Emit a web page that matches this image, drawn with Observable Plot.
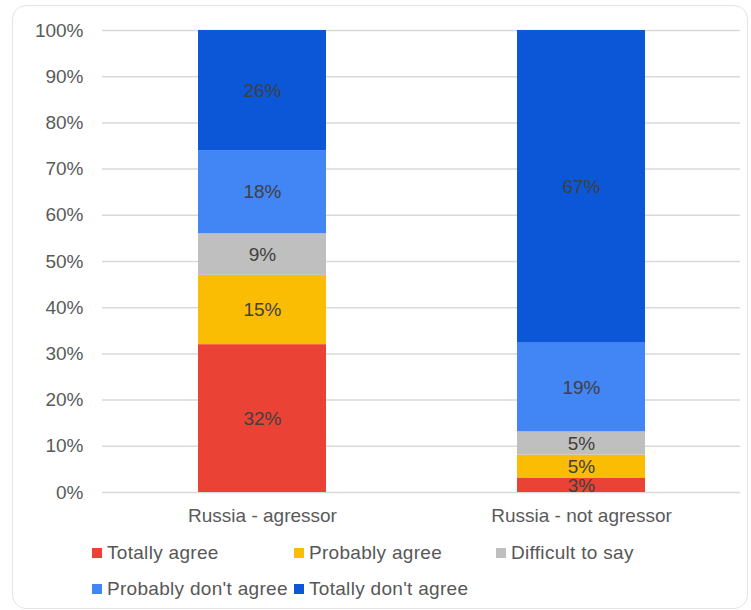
<!DOCTYPE html>
<html>
<head>
<meta charset="utf-8">
<script src="https://cdn.jsdelivr.net/npm/d3@7"></script>
<script src="https://cdn.jsdelivr.net/npm/@observablehq/plot@0.6"></script>
<style>
  html, body { margin: 0; padding: 0; background: #fff; }
  #wrap { position: relative; width: 751px; height: 610px; overflow: hidden; font-family: "Liberation Sans", Arial, sans-serif; }
  #card { position: absolute; left: 12px; top: 5px; width: 736px; height: 604px; border: 1px solid #e4e4e4; border-radius: 14px; box-sizing: border-box; }
  #chart { position: absolute; left: 0; top: 0; }
  .lg { position: absolute; display: flex; align-items: center; font-size: 19px; letter-spacing: 0.3px; color: #575757; white-space: nowrap; }
  .lg span.sw { display: inline-block; width: 10px; height: 10px; margin-right: 5px; }
</style>
</head>
<body>
<div id="wrap">
  <div id="card"></div>
  <div id="chart"></div>
  <div id="legend"></div>
</div>
<script>
const categories = ["Russia - agressor", "Russia - not agressor"];
const seriesNames = ["Totally agree", "Probably agree", "Difficult to say", "Probably don't agree", "Totally don't agree"];
const colors = ["#EA4335", "#FBBC04", "#BFBFBF", "#4285F4", "#0B57D8"];
const agressorValues = [32, 15, 9, 18, 26];
const notAgressorValues = [3, 5, 5, 19, 67];
const yTicks = [0, 0.1, 0.2, 0.3, 0.4, 0.5, 0.6, 0.7, 0.8, 0.9, 1];

const seriesValues = [agressorValues, notAgressorValues];
const data = [];
categories.forEach((c, i) => {
  seriesNames.forEach((s, j) => {
    data.push({category: c, series: s, value: seriesValues[i][j]});
  });
});

const chart = Plot.plot({
  width: 751,
  height: 530,
  marginLeft: 102,
  marginRight: 11,
  marginTop: 30,
  marginBottom: 38,
  style: {fontFamily: '"Liberation Sans", Arial, sans-serif', fontSize: "19px", background: "transparent"},
  x: {domain: categories, paddingInner: 0.6, paddingOuter: 0.3, label: null},
  y: {domain: [0, 1], label: null},
  color: {domain: seriesNames, range: colors},
  marks: [
    Plot.ruleY(yTicks, {stroke: "#d9d9d9", strokeWidth: 1.5}),
    Plot.axisY({ticks: yTicks, tickFormat: d3.format(".0%"), tickSize: 0, tickPadding: 19, fill: "#5a5a5a", fontSize: 19, label: null}),
    Plot.axisX({tickSize: 0, tickPadding: 16, fill: "#5a5a5a", fontSize: 19, letterSpacing: "0.35px", label: null}),
    Plot.barY(data, Plot.stackY({x: "category", y: "value", fill: "series", order: seriesNames, offset: "normalize"})),
    Plot.text(data, Plot.stackY({x: "category", y: "value", z: "series", order: seriesNames, offset: "normalize", text: d => d.value + "%", fill: "#404040", fontSize: 19}))
  ]
});
document.getElementById("chart").appendChild(chart);

// Legend
const legendPos = [[92, 553], [294, 553], [496, 553], [92, 589], [294, 589]];
const legend = document.getElementById("legend");
seriesNames.forEach((s, i) => {
  const el = document.createElement("div");
  el.className = "lg";
  el.style.left = legendPos[i][0] + "px";
  el.style.top = (legendPos[i][1] - 11) + "px";
  el.style.height = "22px";
  el.innerHTML = `<span class="sw" style="background:${colors[i]}"></span>${s}`;
  legend.appendChild(el);
});
</script>
</body>
</html>
